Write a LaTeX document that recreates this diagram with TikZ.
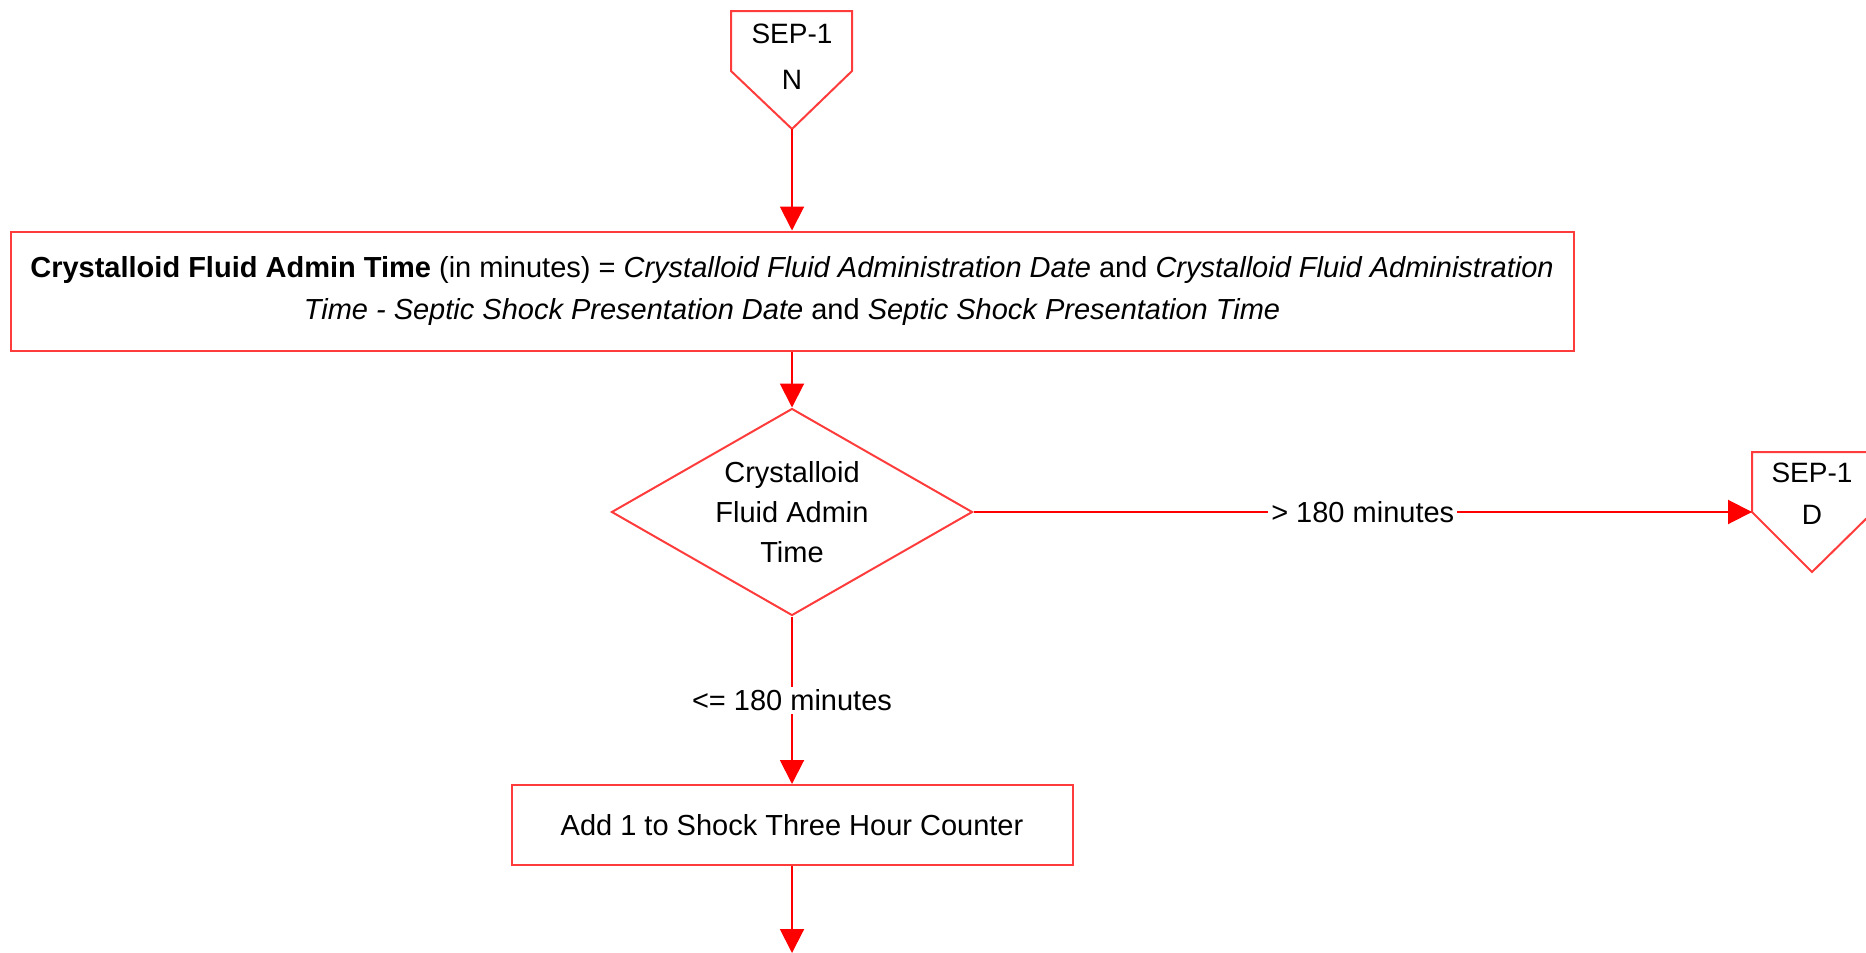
\documentclass[tikz,border=0pt]{standalone}
\usepackage{fontspec}
\setmainfont{Liberation Sans}
\usetikzlibrary{arrows.meta,shapes.geometric}
\definecolor{boxred}{RGB}{255,60,60}
\definecolor{linered}{RGB}{255,0,0}
\begin{document}
\begin{tikzpicture}[x=1pt,y=-1pt,
  every node/.style={font=\fontsize{29}{42}\selectfont, text=black},
  flowbox/.style={draw=boxred, line width=2pt, rectangle, inner sep=0pt, align=center},
  decision/.style={draw=boxred, line width=2pt, diamond, inner sep=0pt, shape aspect=1.744,
    minimum width=361pt, minimum height=207pt, align=center, font=\fontsize{29}{40}\selectfont},
  offpage/.style={draw=boxred, line width=2pt, line join=miter},
  conntext/.style={align=center, inner sep=0pt, font=\fontsize{28}{46}\selectfont},
  flow/.style={draw=linered, line width=2pt, -{Triangle[length=24pt,width=24pt]}},
  flowlabel/.style={fill=white, inner sep=3pt}
]
\useasboundingbox (0,0) rectangle (1866,953);

% off-page connector SEP-1 N (entry)
\draw[offpage] (731,11) -- (852,11) -- (852,71) -- (792,129) -- (731,71) -- cycle;
\node[conntext] (sepN) at (792,57) {SEP-1\\N};
\coordinate (sepNtip) at (792,129);

% fluid admin time calculation
\node[flowbox, minimum width=1563pt, minimum height=119pt] (calc) at (792,291)
  {\textbf{Crystalloid Fluid Admin Time} (in minutes) = \textit{Crystalloid Fluid Administration Date} and \textit{Crystalloid Fluid Administration}\\
   \textit{Time - Septic Shock Presentation Date} and \textit{Septic Shock Presentation Time}};

% decision
\node[decision] (dec) at (792,512) {Crystalloid\\Fluid Admin\\Time};

% off-page connector SEP-1 D (exit)
\draw[offpage] (1752,452) -- (1873,452) -- (1873,512) -- (1812,572) -- (1752,512) -- cycle;
\node[conntext, font=\fontsize{28}{42}\selectfont] (sepD) at (1812,494) {SEP-1\\D};
\coordinate (sepDin) at (1752,512);

% counter increment
\node[flowbox, minimum width=561pt, minimum height=80pt] (count) at (792,825)
  {Add 1 to Shock Three Hour Counter};
\coordinate (exit) at (792,953);

% connectors
\draw[flow] (sepNtip) -- (calc.north);
\draw[flow] (calc.south) -- (dec.north);
\draw[flow] (dec.east) -- node[flowlabel] {> 180 minutes} (sepDin);
\draw[flow] (dec.south) -- node[flowlabel] {<= 180 minutes} (count.north);
\draw[flow] (count.south) -- (exit);
\end{tikzpicture}
\end{document}
